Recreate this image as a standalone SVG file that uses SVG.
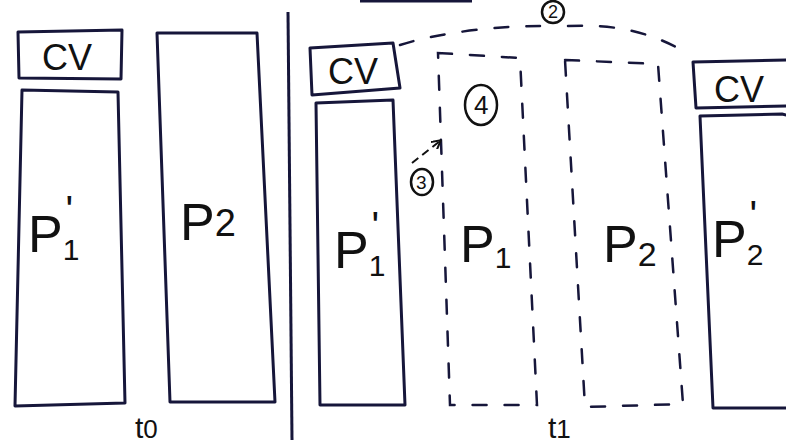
<svg xmlns="http://www.w3.org/2000/svg" width="786" height="445" viewBox="0 0 786 445">
<defs>
<style>
.box{fill:none;stroke:#16163a;stroke-width:3;stroke-linejoin:round}
.dash{fill:none;stroke:#16163a;stroke-width:2.5;stroke-dasharray:14 18;stroke-linecap:round}
.lbl{font-family:"Liberation Sans",Arial,sans-serif;fill:#111;}
.big{font-size:52px}
.cv{font-size:36px}
.circ{fill:none;stroke:#111;stroke-width:2.5}
</style>
<marker id="ah" markerWidth="10" markerHeight="10" refX="8" refY="5" orient="auto" markerUnits="userSpaceOnUse">
<path d="M0,0 L9,5 L0,10" fill="none" stroke="#111" stroke-width="2"/>
</marker>
</defs>
<rect width="786" height="445" fill="#fff"/>

<!-- top partial stroke -->
<path d="M360,1 L472,1" stroke="#16163a" stroke-width="3"/>

<!-- left section -->
<g id="cv-left">
<path class="box" d="M18,32 L122,30 L121,79 L19,78 Z"/>
<text class="lbl cv" x="42" y="70">CV</text>
</g>
<g id="p1prime-left">
<path class="box" d="M22,90 L118,92 L125,403 L15,406 Z"/>
<text class="lbl big" x="28" y="252">P<tspan font-size="30" dy="8">1</tspan><tspan font-size="40" dx="-14" dy="-36">'</tspan></text>
</g>
<g id="p2-left">
<path class="box" d="M157,33 L257,33 L275,402 L170,402 Z"/>
<text class="lbl big" x="180" y="240">P<tspan font-size="38" dy="-4">2</tspan></text>
</g>
<g id="t0">
<text class="lbl" font-size="30" x="135" y="438">t<tspan font-size="26">0</tspan></text>
</g>

<!-- divider -->
<path d="M288,12 L292,440" stroke="#16163a" stroke-width="3" fill="none"/>

<!-- right section -->
<g id="cv-mid">
<path class="box" d="M310,48 L393,43 L400,88 L312,95 Z"/>
<text class="lbl cv" x="328" y="84">CV</text>
</g>
<g id="p1prime-mid">
<path class="box" d="M316,103 L393,100 L405,405 L320,405 Z"/>
<text class="lbl big" x="334" y="268">P<tspan font-size="30" dy="8">1</tspan><tspan font-size="40" dx="-14" dy="-36">'</tspan></text>
</g>
<g id="p1-dashed">
<path class="dash" d="M438,53 L520,58 L537,405 L450,405 Z"/>
<text class="lbl big" x="460" y="262">P<tspan font-size="30" dy="6">1</tspan></text>
</g>
<g id="p2-dashed">
<path class="dash" d="M565,60 L658,64 L683,404 L585,407 Z"/>
<text class="lbl big" x="603" y="262">P<tspan font-size="34" dy="4">2</tspan></text>
</g>
<g id="cv-right">
<path class="box" d="M693,62 L790,60 L790,106 L696,108 Z"/>
<text class="lbl cv" x="714" y="102">CV</text>
</g>
<g id="p2prime-right">
<path class="box" d="M700,116 L782,114 L790,116 L790,408 L713,408 Z"/>
<text class="lbl big" x="712" y="257">P<tspan font-size="30" dy="8">2</tspan><tspan font-size="40" dx="-14" dy="-36">'</tspan></text>
</g>
<g id="t1">
<text class="lbl" font-size="30" x="548" y="438">t<tspan font-size="26">1</tspan></text>
</g>

<!-- step markers -->
<g id="step2">
<circle class="circ" cx="553" cy="12" r="11"/>
<text class="lbl" font-size="18" x="548" y="18">2</text>
</g>
<g id="step4">
<ellipse class="circ" cx="481" cy="105" rx="16" ry="20"/>
<text class="lbl" font-size="26" x="474" y="114">4</text>
</g>
<g id="step3">
<ellipse class="circ" cx="422" cy="182" rx="11" ry="13"/>
<text class="lbl" font-size="19" x="416" y="189">3</text>
</g>

<!-- connectors -->
<g id="connectors">
<path class="dash" d="M400,45 C440,32 500,26 540,26 M568,26 C610,24 650,30 690,55" stroke-dasharray="16 18"/>
<path d="M412,163 L440,141" fill="none" stroke="#111" stroke-width="2" stroke-dasharray="8 5" marker-end="url(#ah)"/>
</g>
</svg>
